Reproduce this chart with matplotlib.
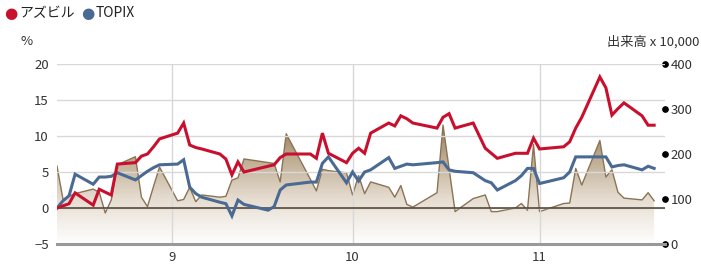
import numpy as np
import pandas as pd
import matplotlib
matplotlib.use("Agg")
import matplotlib.pyplot as plt
import matplotlib.dates as mdates
from matplotlib.colors import LinearSegmentedColormap

plt.rcParams['font.family'] = ['Noto Sans CJK JP', 'DejaVu Sans']

dates = pd.to_datetime([
    '2019-08-13', '2019-08-14', '2019-08-15', '2019-08-16', '2019-08-19', '2019-08-20',
    '2019-08-21', '2019-08-22', '2019-08-23', '2019-08-26', '2019-08-27', '2019-08-28',
    '2019-08-29', '2019-08-30',
    '2019-09-02', '2019-09-03', '2019-09-04', '2019-09-05', '2019-09-06', '2019-09-09',
    '2019-09-10', '2019-09-11', '2019-09-12', '2019-09-13', '2019-09-17', '2019-09-18',
    '2019-09-19', '2019-09-20', '2019-09-24', '2019-09-25', '2019-09-26', '2019-09-27',
    '2019-09-30',
    '2019-10-01', '2019-10-02', '2019-10-03', '2019-10-04', '2019-10-07', '2019-10-08',
    '2019-10-09', '2019-10-10', '2019-10-11', '2019-10-15', '2019-10-16', '2019-10-17',
    '2019-10-18', '2019-10-21', '2019-10-23', '2019-10-24', '2019-10-25', '2019-10-28',
    '2019-10-29', '2019-10-30', '2019-10-31',
    '2019-11-01', '2019-11-05', '2019-11-06', '2019-11-07', '2019-11-08', '2019-11-11',
    '2019-11-12', '2019-11-13', '2019-11-14', '2019-11-15', '2019-11-18', '2019-11-19',
    '2019-11-20'])

azbil = [0, 0.3, 0.6, 2.1, 0.4, 2.6, 2.2, 1.8, 6.1, 6.3, 7.2, 7.5, 8.5, 9.6,
         10.4, 11.8, 8.75, 8.4, 8.2, 7.5, 6.8, 4.6, 6.4, 5.0, 5.8, 6.0, 7.0, 7.5,
         7.5, 6.9, 10.4, 7.6, 6.3,
         7.6, 8.3, 7.6, 10.4, 11.8, 11.4, 12.8, 12.4, 11.8, 11.1, 12.6, 13.1, 11.1,
         11.8, 8.3, 7.6, 6.9, 7.6, 7.6, 7.6, 9.7,
         8.2, 8.5, 9.2, 11.1, 12.6, 18.2, 16.7, 12.9, 13.8, 14.6, 12.8, 11.5, 11.5]

topix = [0, 1.0, 1.7, 4.7, 3.3, 4.3, 4.3, 4.4, 4.9, 3.9, 4.5, 5.1, 5.6, 6.0,
         6.1, 6.7, 2.9, 2.0, 1.5, 0.8, 0.6, -1.1, 1.1, 0.5, -0.3, 0.2, 2.5, 3.2,
         3.6, 3.6, 6.2, 7.1, 3.5,
         5.0, 3.75, 5.0, 5.3, 7.0, 5.5, 5.8, 6.1, 6.0, 6.3, 6.4, 5.3, 5.1,
         4.9, 3.8, 3.5, 2.5, 3.8, 4.5, 5.5, 5.5,
         3.4, 4.2, 5.0, 7.1, 7.1, 7.1, 7.1, 5.7, 5.9, 6.0, 5.3, 5.8, 5.5]

# 出来高 (x 10,000)
volume = [173, 99, 106, 112, 122, 115, 69, 98, 176, 194, 104, 83, 128, 171,
          96, 99, 126, 94, 109, 104, 106, 142, 147, 189, 181, 179, 138, 245,
          144, 118, 166, 163, 158,
          109, 152, 112, 138, 126, 104, 130, 88, 82, 114, 264, 168, 72,
          101, 109, 72, 72, 80, 90, 75, 221,
          72, 90, 91, 168, 131, 230, 149, 165, 115, 102, 98, 114, 96]

fig = plt.figure(figsize=(7.01, 2.67), dpi=100)
ax = fig.add_axes([57/701, 1 - 244/267, 608/701, 180/267])
ax2 = ax.twinx()
ax.set_zorder(ax2.get_zorder() + 1)
ax.patch.set_visible(False)

# volume area with vertical gradient
cmap = LinearSegmentedColormap.from_list('vol', ['#ffffff', '#e6ddd1', '#b9a68a', '#7e6443'])
poly = ax2.fill_between(dates, 0, volume, color='none', lw=0)
x0 = mdates.date2num(dates[0])
x1 = mdates.date2num(dates[-1])
grad = np.linspace(0, 1, 256).reshape(-1, 1)
img = ax2.imshow(grad, aspect='auto', cmap=cmap, origin='lower',
                 extent=[x0, x1, 0, 300], zorder=1)
img.set_clip_path(poly.get_paths()[0], transform=ax2.transData)
ax2.plot(dates, volume, color='#8b7355', lw=1.0, zorder=2)

ax.axhline(0, color='#4a3c2c', lw=1.1, zorder=3)
ax.plot(dates, azbil, color='#c8102e', lw=2.2, zorder=5, solid_joinstyle='miter')
ax.plot(dates, topix, color='#4a6a94', lw=2.2, zorder=4, solid_joinstyle='miter')

ax.set_ylim(-5, 20)
ax.set_yticks([-5, 0, 5, 10, 15, 20])
ax2.set_ylim(0, 400)
ax2.set_yticks([0, 100, 200, 300, 400])
ax.set_xlim(mdates.date2num(pd.Timestamp('2019-08-13')),
            mdates.date2num(pd.Timestamp('2019-08-13')) + 100.8)

ax.xaxis.set_major_locator(mdates.MonthLocator())
ax.xaxis.set_major_formatter(mdates.DateFormatter('%-m'))

for a in (ax, ax2):
    for s in a.spines.values():
        s.set_visible(False)
ax.grid(axis='y', color='#d8d8d8', lw=1)
ax2.grid(False)
ax.grid(axis='x', color='#d8d8d8', lw=1)
ax.axhline(-5, color='#999999', lw=2.2, zorder=3, clip_on=False)

ax.tick_params(axis='both', length=0, labelsize=9.5, colors='#333333', pad=6)
ax.tick_params(axis='x', pad=5)
ax2.tick_params(axis='y', length=0, labelsize=9.5, colors='#333333', pad=4)
for t in ax2.yaxis.get_major_ticks():
    t.tick2line.set_marker('o')
    t.tick2line.set_markersize(4)
    t.tick2line.set_markerfacecolor('black')
    t.tick2line.set_markeredgecolor('black')
    t.tick2line.set_clip_on(False)

fig.text(27/701, 1 - 42/267, '%', fontsize=9.5, color='#333333', ha='center', va='center')
fig.text(699/701, 1 - 42/267, '出来高 x 10,000', fontsize=9.5, color='#333333',
         ha='right', va='center')

# legend
fig.text(4/701, 1 - 13/267, '●', fontsize=11, color='#c8102e', va='center',
         family=['DejaVu Sans'])
fig.text(19/701, 1 - 13/267, 'アズビル', fontsize=10, color='#222222', va='center')
fig.text(81/701, 1 - 13/267, '●', fontsize=11, color='#4a6a94', va='center',
         family=['DejaVu Sans'])
fig.text(96/701, 1 - 13/267, 'TOPIX', fontsize=10, color='#222222', va='center')

fig.savefig('out.png', dpi=100)
